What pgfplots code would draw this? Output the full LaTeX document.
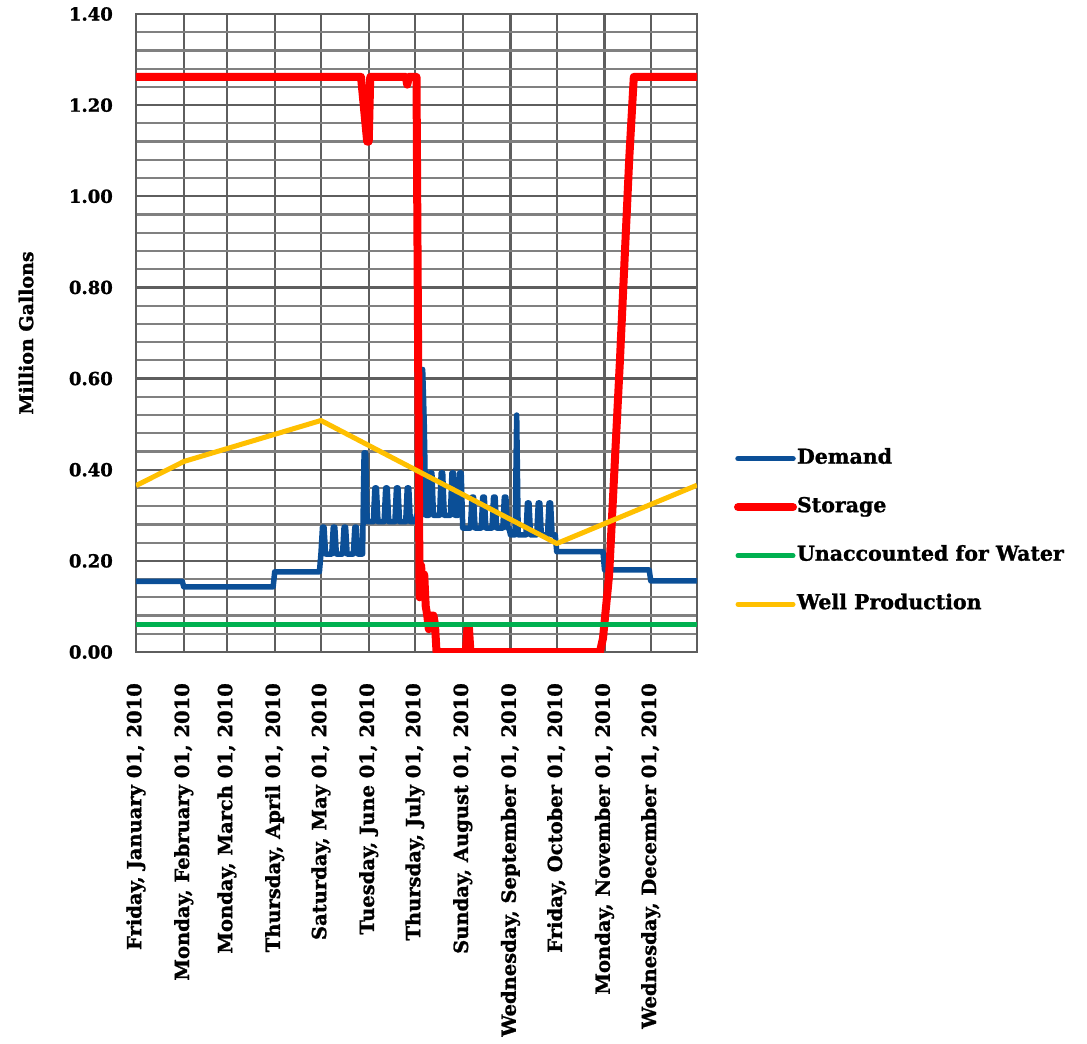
\documentclass[border=0pt]{standalone}
\usepackage{fontspec}
\setmainfont{DejaVu Serif}[BoldFeatures={FakeBold=1.2}]
\usepackage{pgfplots}
\pgfplotsset{compat=1.18}

\definecolor{demand}{HTML}{0B4F97}
\definecolor{storage}{HTML}{FF0000}
\definecolor{ufw}{HTML}{00B050}
\definecolor{well}{HTML}{FFC000}
\definecolor{gridmajor}{HTML}{5E5E5E}
\definecolor{gridminor}{HTML}{808080}

\begin{document}
\begin{tikzpicture}
\useasboundingbox (-136bp,-392bp) rectangle (951bp,652bp);
\begin{axis}[
  at={(0,0)}, anchor=south west,
  scale only axis, width=561bp, height=638bp,
  xmin=0, xmax=364, ymin=0, ymax=1.4,
  xtick={0,31,59,90,120,151,181,212,243,273,304,334},
  xticklabels={{Friday, January 01, 2010},{Monday, February 01, 2010},{Monday, March 01, 2010},{Thursday, April 01, 2010},{Saturday, May 01, 2010},{Tuesday, June 01, 2010},{Thursday, July 01, 2010},{Sunday, August 01, 2010},{Wednesday, September 01, 2010},{Friday, October 01, 2010},{Monday, November 01, 2010},{Wednesday, December 01, 2010}},
  ytick={0,0.2,0.4,0.6,0.8,1.0,1.2,1.4},
  minor y tick num=4,
  xmajorgrids, ymajorgrids, yminorgrids,
  major grid style={gridmajor, line width=2.2bp},
  minor grid style={gridminor, line width=2.2bp},
  axis line style={gridmajor, line width=2.4bp},
  major tick length=0pt, minor tick length=0pt,
  xticklabel style={rotate=90, anchor=east, inner sep=0pt,
    font=\bfseries\fontsize{19.5bp}{21bp}\selectfont},
  xticklabel shift=31bp,
  yticklabel style={anchor=east, inner sep=0pt,
    font=\bfseries\fontsize{18bp}{20bp}\selectfont,
    /pgf/number format/.cd, fixed, fixed zerofill, precision=2,
    assume math mode=true},
  yticklabel shift=23bp,
  ylabel={Million Gallons},
  ylabel style={at={(axis description cs:-0.196,0.5)}, anchor=center,
    font=\bfseries\fontsize{19bp}{21bp}\selectfont},
  legend style={at={(axis description cs:1.066,0.189)}, anchor=west,
    draw=none, fill=none, inner sep=0pt, outer sep=0pt,
    row sep=30.5bp, column sep=0bp,
    font=\bfseries\fontsize{20.5bp}{22bp}\selectfont,
    nodes={inner sep=0pt, text height=14bp, text depth=4bp}},
  legend cell align=left,
  legend image code/.code={\draw[#1, line cap=round] (0bp,0bp) -- (55bp,0bp);},
  every axis plot/.append style={line join=round},
]

% Daily demand, stepping by month with weekly peaks through summer
\addplot[demand, line width=5.5bp] coordinates {
  (0,0.155) (30,0.155) (31,0.143) (89,0.143) (90,0.176) (119,0.176)
  (120,0.215) (121,0.274) (122,0.274) (123,0.215)
  (127,0.215) (128,0.274) (129,0.274) (130,0.215)
  (134,0.215) (135,0.274) (136,0.274) (137,0.215)
  (141,0.215) (142,0.274) (143,0.274) (144,0.215)
  (147,0.215) (148,0.437) (149,0.437) (150,0.286)
  (154,0.286) (155,0.36) (156,0.36) (157,0.286)
  (161,0.286) (162,0.36) (163,0.36) (164,0.286)
  (168,0.286) (169,0.36) (170,0.36) (171,0.286)
  (175,0.286) (176,0.36) (177,0.36) (178,0.286)
  (181,0.286) (182,0.30) (185,0.30) (186,0.62) (187,0.505) (188,0.30)
  (190,0.30) (191,0.393) (192,0.393) (193,0.30)
  (197,0.30) (198,0.393) (199,0.393) (200,0.30)
  (204,0.30) (205,0.393) (206,0.393) (207,0.30)
  (209,0.30) (210,0.393) (211,0.393) (212,0.272)
  (217,0.272) (218,0.34) (219,0.34) (220,0.272)
  (224,0.272) (225,0.34) (226,0.34) (227,0.272)
  (231,0.272) (232,0.34) (233,0.34) (234,0.272)
  (238,0.272) (239,0.34) (240,0.34) (241,0.272)
  (242,0.272) (243,0.257) (246,0.257) (247,0.52) (248,0.257)
  (253,0.257) (254,0.327) (255,0.327) (256,0.257)
  (260,0.257) (261,0.327) (262,0.327) (263,0.257)
  (267,0.257) (268,0.327) (269,0.327) (270,0.257) (272,0.257)
  (273,0.22) (303,0.22) (304,0.18) (333,0.18) (334,0.156) (364,0.156)
};
\addlegendentry{Demand}

% Storage tank level
\addplot[storage, line width=8bp] coordinates {
  (0,1.262) (146,1.262) (150,1.12) (151,1.12) (152,1.262)
  (175,1.262) (176,1.245) (177,1.262) (182,1.262)
  (184,0.12) (185,0.19) (186,0.13) (187,0.17) (188,0.10) (189,0.08)
  (190,0.05) (191,0.08) (193,0.08) (194,0.06) (195,0)
  (214,0) (215,0.05) (216,0.055) (217,0)
  (301,0) (303,0.03) (307,0.17) (314,0.64) (320,1.08) (323,1.262) (364,1.262)
};
\addlegendentry{Storage}

\addplot[ufw, line width=5bp] coordinates {(0,0.061) (364,0.061)};
\addlegendentry{Unaccounted for Water}

\addplot[well, line width=5bp] coordinates {
  (0,0.365) (31,0.418) (120,0.508) (273,0.238) (364,0.366)
};
\addlegendentry{Well Production}

\end{axis}
\end{tikzpicture}
\end{document}
